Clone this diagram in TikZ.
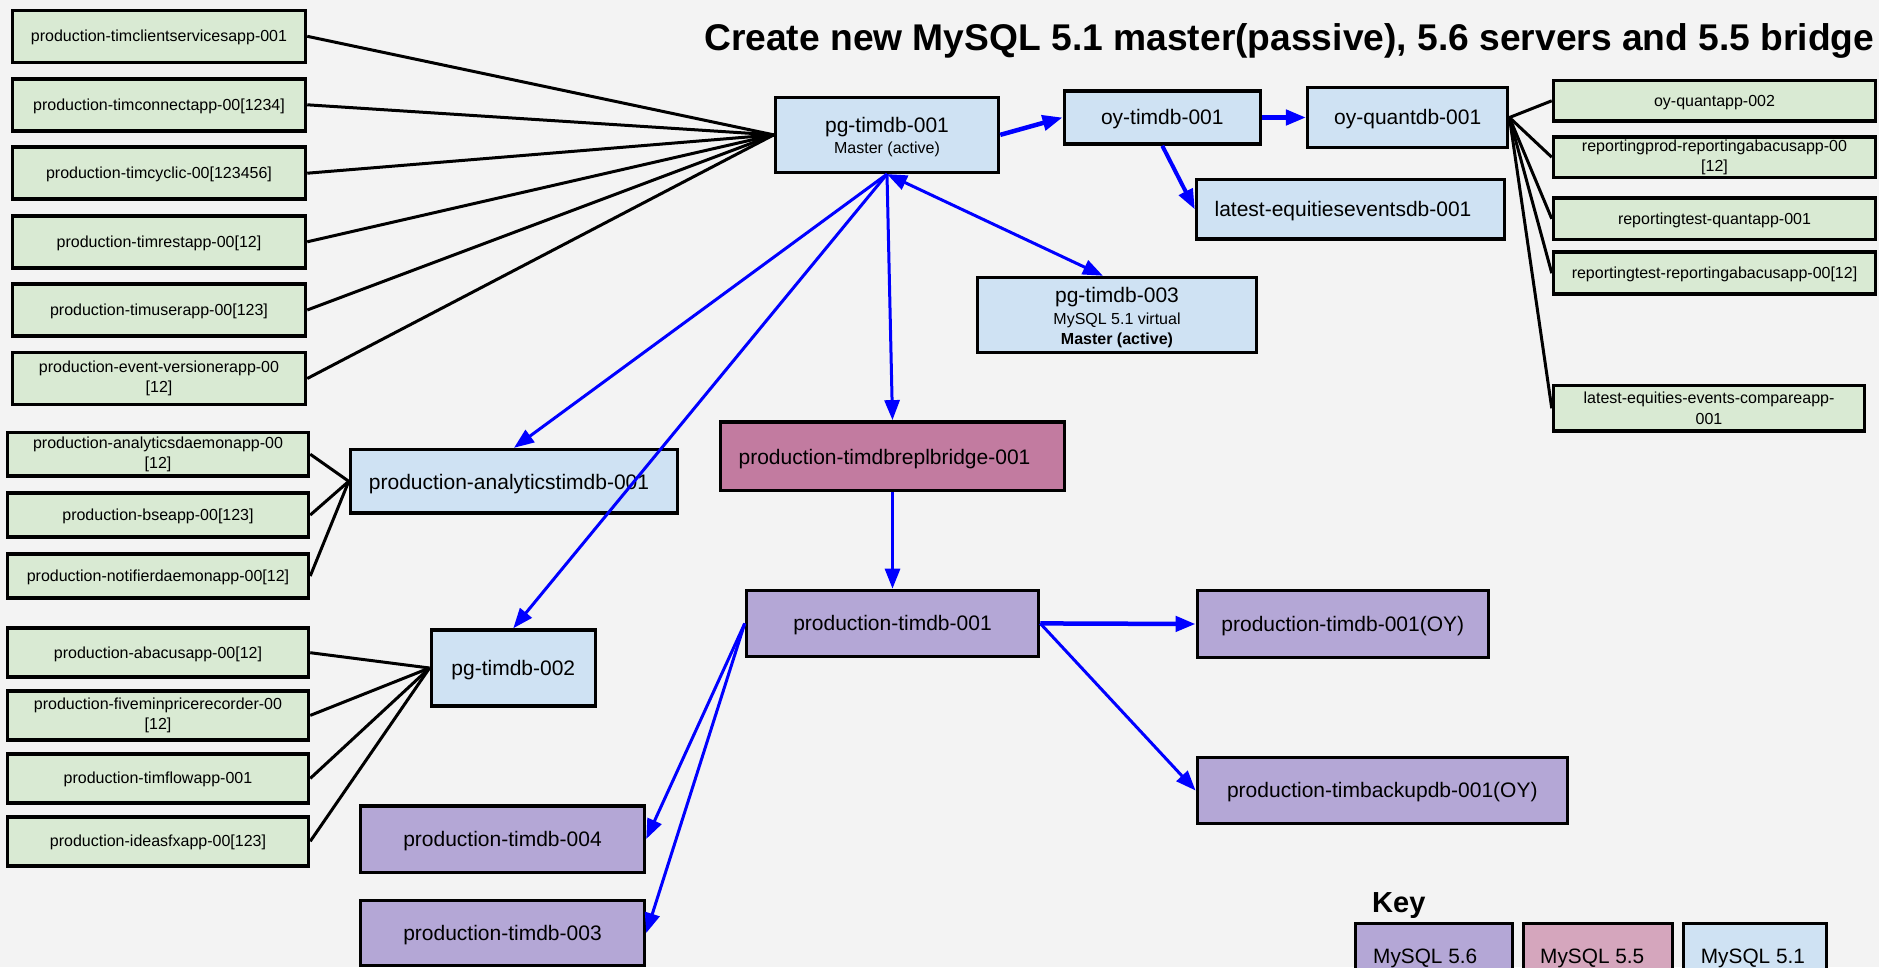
\documentclass[tikz,border=0pt]{standalone}
\usepackage{fontspec}
\setmainfont{Liberation Sans}
\usetikzlibrary{arrows.meta,calc}
\definecolor{bgc}{HTML}{F3F3F3}
\definecolor{gfill}{HTML}{D9EAD3}
\definecolor{bfill}{HTML}{CFE2F3}
\definecolor{pfill}{HTML}{B4A7D6}
\definecolor{mfill}{HTML}{C27BA0}
\definecolor{kfill}{HTML}{D5A6BD}
\definecolor{lblue}{HTML}{0000FF}
\tikzset{
  nbox/.style={draw=black, line width=3.5pt, inner sep=0pt, align=center},
  sm/.style={font=\fontsize{16}{20.5}\selectfont},
  bg/.style={font=\fontsize{21}{25}\selectfont},
  one/.style={text height=14.5pt, text depth=3.4pt},
  onebig/.style={text height=19pt, text depth=4.45pt},
  gbox/.style={nbox, fill=gfill, sm},
  bbox/.style={nbox, fill=bfill, bg, onebig},
  pbox/.style={nbox, fill=pfill, bg, onebig},
  lbl/.style={inner sep=0pt, anchor=base},
  conn/.style={draw=black, line width=3pt},
  arr/.style={draw=lblue, line width=3pt, -{Triangle[length=20pt,width=15pt]}},
  arrthick/.style={arr, line width=4.5pt},
}
\begin{document}
\begin{tikzpicture}[x=1pt,y=-1pt]
\useasboundingbox (0,0) rectangle (1879,967);
\clip (0,0) rectangle (1879,967);
\fill[bgc] (0,0) rectangle (1879,967);

% title
\node[inner sep=0pt, anchor=base west, font=\bfseries\fontsize{37.2}{40}\selectfont] (title) at (704,50) {Create new MySQL 5.1 master(passive), 5.6 servers and 5.5 bridge};

% left group 1
\node[gbox, one, minimum width=293pt, minimum height=52pt] (g1) at (159,36.3) {production-timclientservicesapp-001};
\node[gbox, one, minimum width=293pt, minimum height=52pt] (g2) at (159,104.8) {production-timconnectapp-00[1234]};
\node[gbox, one, minimum width=293pt, minimum height=52pt] (g3) at (159,173.2) {production-timcyclic-00[123456]};
\node[gbox, one, minimum width=293pt, minimum height=52pt] (g4) at (159,241.8) {production-timrestapp-00[12]};
\node[gbox, one, minimum width=293pt, minimum height=52pt] (g5) at (159,310) {production-timuserapp-00[123]};
\node[gbox, minimum width=293pt, minimum height=52pt] (g6) at (159,378.5) {production-event-versionerapp-00\\{}[12]};

% left group 2
\node[gbox, minimum width=301pt, minimum height=43.5pt] (a1) at (158,454.2) {production-analyticsdaemonapp-00\\{}[12]};
\node[gbox, one, minimum width=301pt, minimum height=44pt] (a2) at (158,515) {production-bseapp-00[123]};
\node[gbox, one, minimum width=301pt, minimum height=44pt] (a3) at (158,576) {production-notifierdaemonapp-00[12]};

% left group 3
\node[gbox, one, minimum width=301pt, minimum height=49pt] (b1) at (158,652.7) {production-abacusapp-00[12]};
\node[gbox, minimum width=301pt, minimum height=49pt] (b2) at (158,715.4) {production-fiveminpricerecorder-00\\{}[12]};
\node[gbox, one, minimum width=301pt, minimum height=49pt] (b3) at (158,778.4) {production-timflowapp-001};
\node[gbox, one, minimum width=301pt, minimum height=49pt] (b4) at (158,841.3) {production-ideasfxapp-00[123]};

% databases
\node[nbox, fill=bfill, minimum width=223pt, minimum height=75pt] (pg1) at (887,134.85) {};
\node[lbl, bg] (pg1a) at (887,132.3) {pg-timdb-001};
\node[lbl, sm] (pg1b) at (887,153.3) {Master (active)};

\node[bbox, minimum width=196pt, minimum height=53pt] (oy1) at (1162.3,117.5) {oy-timdb-001};
\node[bbox, minimum width=200pt, minimum height=60pt] (oyq) at (1407.7,117.5) {oy-quantdb-001};
\node[nbox, fill=bfill, minimum width=308pt, minimum height=59.5pt] (latest) at (1350.5,209.3) {};
\node[lbl, bg] (latestt) at (1343,216.7) {latest-equitieseventsdb-001};

\node[nbox, fill=bfill, minimum width=279pt, minimum height=75pt] (pg3) at (1117,315) {};
\node[lbl, bg] (pg3a) at (1117,302.7) {pg-timdb-003};
\node[lbl, sm] (pg3b) at (1117,324.3) {MySQL 5.1 virtual};
\node[lbl, sm, font=\bfseries\fontsize{16}{20}\selectfont] (pg3c) at (1117,344) {Master (active)};

\node[nbox, fill=bfill, minimum width=327pt, minimum height=63.5pt] (an) at (514,481.3) {};
\node[lbl, bg] (ant) at (509,489) {production-analyticstimdb-001};
\node[bbox, minimum width=164pt, minimum height=76pt] (pg2) at (513.3,668) {pg-timdb-002};

\node[nbox, fill=mfill, minimum width=344pt, minimum height=68.5pt] (bridge) at (892.5,456.1) {};
\node[lbl, bg] (bridget) at (884.5,464.3) {production-timdbreplbridge-001};
\node[pbox, minimum width=292pt, minimum height=66pt] (ptd1) at (892.5,623.4) {production-timdb-001};
\node[pbox, minimum width=291pt, minimum height=67pt] (oyoy) at (1342.8,624) {production-timdb-001(OY)};
\node[pbox, minimum width=370pt, minimum height=66pt] (backup) at (1382.3,790.5) {production-timbackupdb-001(OY)};
\node[pbox, minimum width=284pt, minimum height=66.5pt] (t004) at (502.5,839) {production-timdb-004};
\node[pbox, minimum width=284pt, minimum height=65pt] (t003) at (502.5,933) {production-timdb-003};

% right group
\node[gbox, one, minimum width=322pt, minimum height=40.7pt] (r1) at (1714.5,100.8) {oy-quantapp-002};
\node[gbox, minimum width=322pt, minimum height=40.7pt] (r2) at (1714.5,157.2) {reportingprod-reportingabacusapp-00\\{}[12]};
\node[gbox, one, minimum width=322pt, minimum height=41.3pt] (r3) at (1714.5,218.8) {reportingtest-quantapp-001};
\node[gbox, one, minimum width=322pt, minimum height=42pt] (r4) at (1714.5,273.2) {reportingtest-reportingabacusapp-00[12]};
\node[gbox, minimum width=311pt, minimum height=45.7pt] (r5) at (1709,408.3) {latest-equities-events-compareapp-\\001};

% key
\node[inner sep=0pt, anchor=base west, font=\bfseries\fontsize{29}{32}\selectfont] (keyt) at (1372,912) {Key};
\node[nbox, fill=pfill, minimum width=157pt, minimum height=85pt] (k56) at (1434,966) {};
\node[nbox, fill=kfill, minimum width=149pt, minimum height=85pt] (k55) at (1598,966) {};
\node[nbox, fill=bfill, minimum width=143pt, minimum height=85pt] (k51) at (1755,966) {};
\node[inner sep=0pt, anchor=base west, font=\fontsize{20.8}{24}\selectfont] (k56t) at (1373,963.3) {MySQL 5.6};
\node[inner sep=0pt, anchor=base west, font=\fontsize{20.8}{24}\selectfont] (k55t) at (1540,963.3) {MySQL 5.5};
\node[inner sep=0pt, anchor=base west, font=\fontsize{20.8}{24}\selectfont] (k51t) at (1700.7,963.3) {MySQL 5.1};

% black connectors
\foreach \n in {g1,g2,g3,g4,g5,g6} \draw[conn] (\n.east) -- (pg1.west);
\foreach \n in {a1,a2,a3} \draw[conn] (\n.east) -- (an.west);
\foreach \n in {b1,b2,b3,b4} \draw[conn] (\n.east) -- (pg2.west);
\foreach \n in {r1,r2,r3,r4,r5} \draw[conn] (oyq.east) -- (\n.west);

% blue arrows
\draw[arrthick] (pg1.east) -- (oy1.west);
\draw[arrthick] (oy1.east) -- (oyq.west);
\draw[arr, line width=4pt] (oy1.south) -- (latest.west);
\draw[arr, {Triangle[length=20pt,width=15pt]}-{Triangle[length=20pt,width=15pt]}] (pg1.south) -- ($(pg3.north west)!0.45!(pg3.north east)$);
\draw[arr] (pg1.south) -- (an.north);
\draw[arr] (pg1.south) -- (pg2.north);
\draw[arr] (pg1.south) -- (bridge.north);
\draw[arr] (bridge.south) -- (ptd1.north);
\draw[arrthick] (ptd1.east) -- (oyoy.west);
\draw[arr] (ptd1.east) -- (backup.west);
\draw[arr] (ptd1.west) -- (t004.east);
\draw[arr] (ptd1.west) -- (t003.east);
\end{tikzpicture}
\end{document}
